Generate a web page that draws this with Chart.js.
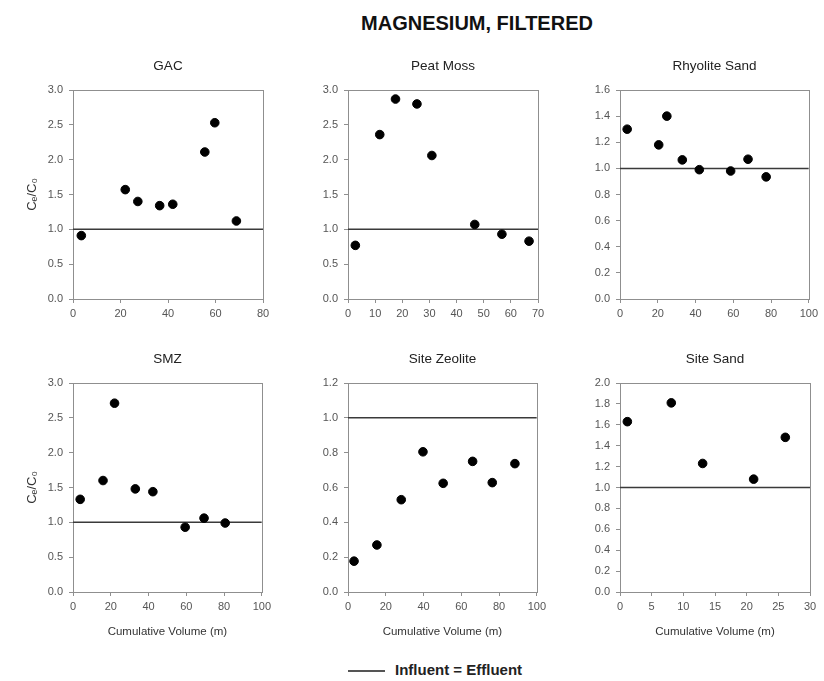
<!DOCTYPE html>
<html>
<head>
<meta charset="utf-8">
<script src="https://cdn.jsdelivr.net/npm/chart.js@4.4.0/dist/chart.umd.min.js"></script>
<style>
  body { margin: 0; background: #fff; width: 824px; height: 681px; position: relative; overflow: hidden;
         font-family: Arial, "Liberation Sans", sans-serif; }
  canvas { position: absolute; }
  #title { position: absolute; left: 327px; top: 11px; width: 300px; text-align: center;
           font-weight: bold; font-size: 20px; line-height: 24px; color: #111; }
  #legend { position: absolute; left: 348px; top: 661px; height: 18px; line-height: 18px;
            font-weight: bold; font-size: 15px; color: #222; white-space: nowrap; }
  #legend .swatch { display: inline-block; width: 37px; height: 0; border-top: 2px solid #555;
                    vertical-align: middle; margin-right: 10px; }
</style>
</head>
<body>
<div id="title">MAGNESIUM, FILTERED</div>
<canvas id="c0"></canvas>
<canvas id="c1"></canvas>
<canvas id="c2"></canvas>
<canvas id="c3"></canvas>
<canvas id="c4"></canvas>
<canvas id="c5"></canvas>
<div id="legend"><span class="swatch"></span>Influent = Effluent</div>
<script>
// panel names
const panelNames = ['GAC', 'Peat Moss', 'Rhyolite Sand', 'SMZ', 'Site Zeolite', 'Site Sand'];

// cumulative volume (m) and Ce/C0 for each panel
const gacVol = [3.5, 22, 27.3, 36.5, 42, 55.5, 59.7, 68.8];
const gacRatio = [0.91, 1.57, 1.40, 1.34, 1.36, 2.11, 2.53, 1.12];
const peatVol = [2.7, 11.7, 17.5, 25.4, 30.9, 46.7, 56.7, 66.7];
const peatRatio = [0.77, 2.36, 2.87, 2.80, 2.06, 1.07, 0.93, 0.83];
const rhyoVol = [3.8, 20.5, 24.8, 33, 42, 58.6, 67.8, 77.4];
const rhyoRatio = [1.30, 1.18, 1.40, 1.065, 0.99, 0.98, 1.07, 0.935];
const smzVol = [3.8, 15.9, 22, 33, 42.3, 59.4, 69.4, 80.6];
const smzRatio = [1.33, 1.60, 2.71, 1.48, 1.44, 0.93, 1.06, 0.99];
const zeoVol = [3.2, 15.3, 28.2, 39.7, 50.4, 66, 76.4, 88.4];
const zeoRatio = [0.177, 0.27, 0.53, 0.805, 0.624, 0.75, 0.628, 0.737];
const sandVol = [1.16, 8.1, 13.05, 21.1, 26.1];
const sandRatio = [1.63, 1.81, 1.23, 1.08, 1.48];

// axis ranges: [max, step]
const xAxes = [[80, 20], [70, 10], [100, 20], [100, 20], [100, 20], [30, 5]];
const yAxes = [[3, 0.5], [3, 0.5], [1.6, 0.2], [3, 0.5], [1.2, 0.2], [2, 0.2]];

// influent = effluent reference value
const influentLine = 1.0;

const allVol = [gacVol, peatVol, rhyoVol, smzVol, zeoVol, sandVol];
const allRatio = [gacRatio, peatRatio, rhyoRatio, smzRatio, zeoRatio, sandRatio];

// layout of the plot boxes
const plotLeft = [73, 348, 620];
const plotTop = [90, 383];
const plotW = 190, plotH = 209;
const yAxisW = 70, titleH = 40, rightPad = 12;

const frame = {
  id: 'frame',
  beforeDatasetsDraw(chart) {
    const a = chart.chartArea;
    const ctx = chart.ctx;
    ctx.save();
    ctx.strokeStyle = '#8f8f8f';
    ctx.lineWidth = 1;
    ctx.strokeRect(Math.round(a.left) + 0.5, Math.round(a.top) + 0.5,
                   Math.round(a.right - a.left), Math.round(a.bottom - a.top));
    ctx.restore();
  }
};

const tickColor = '#555';
const gridCol = '#8f8f8f';

for (let i = 0; i < 6; i++) {
  const col = i % 3, row = Math.floor(i / 3);
  const xAxisH = row === 0 ? 22 : 50;
  const cv = document.getElementById('c' + i);
  cv.width = yAxisW + plotW + rightPad;
  cv.height = titleH + plotH + xAxisH;
  cv.style.left = (plotLeft[col] - yAxisW) + 'px';
  cv.style.top = (plotTop[row] - titleH) + 'px';

  const pts = allVol[i].map((v, k) => ({ x: v, y: allRatio[i][k] }));
  const [xMax, xStep] = xAxes[i];
  const [yMax, yStep] = yAxes[i];

  new Chart(cv, {
    type: 'scatter',
    data: {
      datasets: [{
        label: panelNames[i],
        data: pts,
        backgroundColor: '#000',
        borderColor: '#000',
        pointRadius: 4.3,
        pointHoverRadius: 4.3
      }, {
        label: 'Influent = Effluent',
        type: 'line',
        data: [{ x: 0, y: influentLine }, { x: xMax, y: influentLine }],
        borderColor: '#3a3a3a',
        borderWidth: 1.5,
        pointRadius: 0,
        showLine: true
      }]
    },
    options: {
      responsive: false,
      animation: false,
      layout: { padding: { left: 0, right: rightPad, top: 0, bottom: 0 } },
      plugins: {
        legend: { display: false },
        tooltip: { enabled: false },
        title: { display: false }
      },
      scales: {
        x: {
          type: 'linear',
          min: 0, max: xMax,
          afterFit: s => { s.height = xAxisH; },
          grid: { drawOnChartArea: false, drawTicks: true, tickLength: 4, color: gridCol },
          border: { color: gridCol },
          ticks: { stepSize: xStep, color: tickColor, padding: 4, maxRotation: 0,
                   font: { family: 'Arial', size: 11 } },
          title: {
            display: row === 1,
            text: 'Cumulative Volume (m)',
            color: '#333',
            font: { family: 'Arial', size: 11.5 },
            padding: { top: 0, bottom: 3 }
          }
        },
        // top axis only carries the panel name, centred over the plot box
        top: {
          type: 'linear',
          position: 'top',
          min: 0, max: xMax,
          afterFit: s => { s.height = titleH; },
          grid: { display: false },
          border: { display: false },
          ticks: { display: false },
          title: {
            display: true,
            text: panelNames[i],
            color: '#222',
            font: { family: 'Arial', size: 13.5 },
            padding: { top: 8, bottom: 0 }
          }
        },
        y: {
          min: 0, max: yMax,
          afterFit: s => { s.width = yAxisW; },
          grid: { drawOnChartArea: false, drawTicks: true, tickLength: 4, color: gridCol },
          border: { color: gridCol },
          ticks: { stepSize: yStep, color: tickColor, padding: 6,
                   font: { family: 'Arial', size: 11 },
                   callback: v => v.toFixed(1) },
          title: {
            display: col === 0,
            text: 'Cₑ/C₀',
            color: '#333',
            font: { family: 'Arial', size: 13 },
            padding: { top: 22, bottom: 0 }
          }
        }
      }
    },
    plugins: [frame]
  });
}
</script>
</body>
</html>
